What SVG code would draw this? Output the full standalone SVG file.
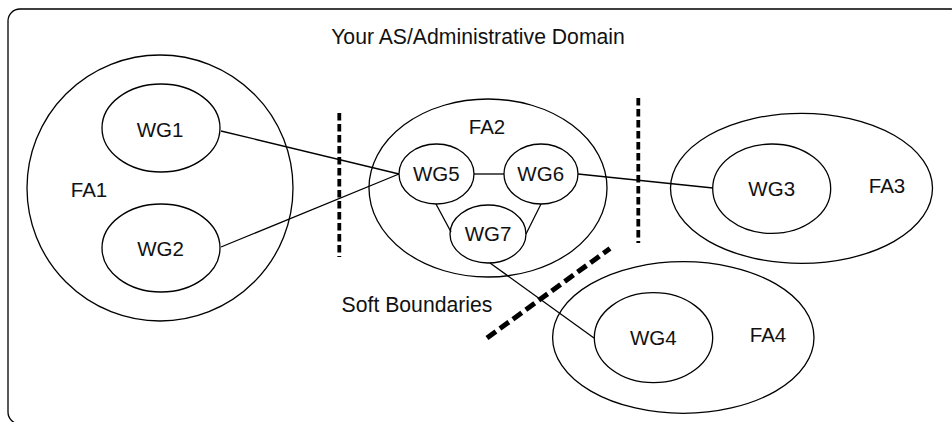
<svg xmlns="http://www.w3.org/2000/svg" width="952" height="422" viewBox="0 0 952 422">
<style>
.sh{fill:none;stroke:#000;stroke-width:1.3}
.t{font-family:"Liberation Sans",Arial,Helvetica,sans-serif;font-size:20.5px;fill:#111;text-anchor:middle}
.big{font-size:21.2px}
.ln{stroke:#000;stroke-width:1.3;fill:none}
.db{stroke:#000;stroke-width:3.8;stroke-dasharray:7.5 3.5;fill:none}
.dd{stroke:#000;stroke-width:5;stroke-dasharray:11 5;fill:none}
</style>
<rect x="8" y="9" width="955" height="415" rx="12" ry="12" fill="#fff" stroke="#000" stroke-width="1.3"/>
<text class="t big" x="478" y="44">Your AS/Administrative Domain</text>
<g id="FA1"><circle class="sh" cx="160" cy="188" r="133"/><text class="t" x="89" y="197">FA1</text></g>
<g id="FA2"><ellipse class="sh" cx="488" cy="188" rx="119" ry="89"/><text class="t" x="487" y="134">FA2</text></g>
<g id="FA3"><ellipse class="sh" cx="801.5" cy="188.3" rx="131" ry="75"/><text class="t" x="887" y="193">FA3</text></g>
<g id="FA4"><ellipse class="sh" cx="683.3" cy="337.5" rx="130.7" ry="75.8"/><text class="t" x="768" y="342">FA4</text></g>
<g id="WG1"><ellipse class="sh" cx="161" cy="128" rx="59" ry="44"/><text class="t" x="160" y="137">WG1</text></g>
<g id="WG2"><ellipse class="sh" cx="161" cy="248" rx="59" ry="44"/><text class="t" x="160.5" y="256">WG2</text></g>
<g id="WG3"><ellipse class="sh" cx="771.7" cy="188.7" rx="59" ry="44.7"/><text class="t" x="771.7" y="196">WG3</text></g>
<g id="WG4"><ellipse class="sh" cx="653.5" cy="337.7" rx="59.2" ry="45"/><text class="t" x="653.3" y="345">WG4</text></g>
<g id="WG5"><ellipse class="sh" cx="436.5" cy="174" rx="37.5" ry="30"/><text class="t" x="436.3" y="181">WG5</text></g>
<g id="WG6"><ellipse class="sh" cx="541" cy="174" rx="37" ry="30"/><text class="t" x="540.7" y="181">WG6</text></g>
<g id="WG7"><ellipse class="sh" cx="488" cy="234" rx="38" ry="29"/><text class="t" x="488" y="241">WG7</text></g>
<g id="connectors">
<line class="ln" x1="221" y1="131" x2="399" y2="174"/>
<line class="ln" x1="221" y1="247" x2="399" y2="174"/>
<line class="ln" x1="474" y1="174" x2="504" y2="174"/>
<line class="ln" x1="436" y1="204" x2="451" y2="232"/>
<line class="ln" x1="541" y1="204" x2="526" y2="234"/>
<line class="ln" x1="578" y1="174" x2="713" y2="188"/>
<line class="ln" x1="490" y1="263" x2="594" y2="338"/>
</g>
<g id="soft-boundaries">
<line class="db" x1="339.3" y1="113" x2="339.3" y2="257"/>
<line class="db" x1="638.3" y1="98" x2="638.3" y2="243"/>
<line class="dd" x1="487" y1="338" x2="610" y2="248.5"/>
<text class="t big" x="417" y="312">Soft Boundaries</text>
</g>
</svg>
